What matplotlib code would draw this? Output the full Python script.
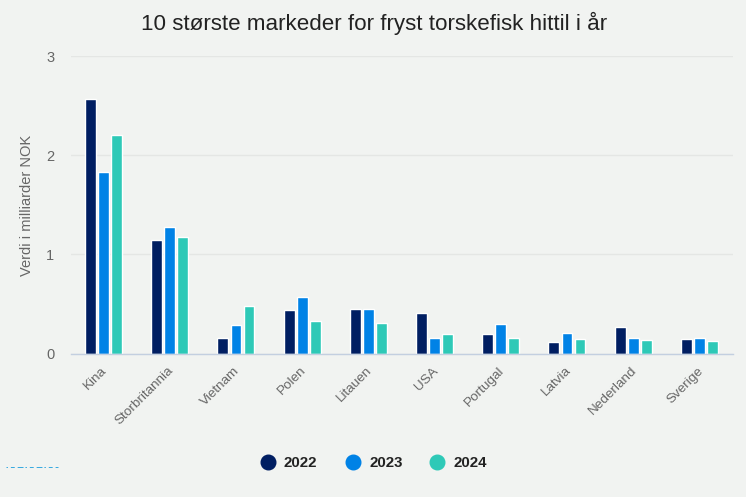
import matplotlib
matplotlib.use("Agg")
import matplotlib.pyplot as plt
import matplotlib.transforms as mtrans
import numpy as np
from matplotlib.lines import Line2D

plt.rcParams['font.family'] = ['Liberation Sans', 'DejaVu Sans']

categories = ["Kina", "Storbritannia", "Vietnam", "Polen", "Litauen", "USA",
              "Portugal", "Latvia", "Nederland", "Sverige"]
v2022 = [2.57, 1.14, 0.16, 0.44, 0.45, 0.41, 0.20, 0.12, 0.27, 0.15]
v2023 = [1.83, 1.28, 0.29, 0.57, 0.45, 0.16, 0.30, 0.21, 0.16, 0.16]
v2024 = [2.20, 1.17, 0.48, 0.33, 0.31, 0.20, 0.16, 0.15, 0.14, 0.13]
series = [("2022", v2022, "#001E62"), ("2023", v2023, "#0082E6"), ("2024", v2024, "#2EC9B7")]
yticks = [0, 1, 2, 3]
W, H = 746, 497
BG = "#F1F3F1"

fig = plt.figure(figsize=(W/100, H/100), dpi=100, facecolor=BG)
ax = fig.add_axes([71/W, 1-353.5/H, (733-71)/W, (353.5-56)/H], facecolor=BG)
x = np.arange(len(categories))
for i, (name, vals, col) in enumerate(series):
    ax.bar(x + (i-1)*0.197 - 0.008, vals, width=0.165, color=col, edgecolor="white", linewidth=1.0, zorder=3)
ax.set_xlim(-0.5, 9.5)
ax.set_ylim(0, 3)
ax.set_yticks(yticks)
ax.set_yticklabels([str(t) for t in yticks], fontsize=10.5, color="#666666")
ax.set_xticks(x)
ax.set_xticklabels(categories, rotation=45, ha="right", rotation_mode="anchor",
                   fontsize=9.7, color="#666666")
ax.tick_params(axis="both", length=0)
ax.tick_params(axis="x", pad=8)
ax.tick_params(axis="y", pad=12)
shift = mtrans.ScaledTranslation(-3/100, 0, fig.dpi_scale_trans)
for lab in ax.get_xticklabels():
    lab.set_transform(lab.get_transform() + shift)
ax.grid(axis="y", color="#E4E6E4", linewidth=1, zorder=0)
ax.set_axisbelow(True)
for s in ["top", "right", "left"]:
    ax.spines[s].set_visible(False)
ax.spines["bottom"].set_color("#C3CFE0")
ax.spines["bottom"].set_linewidth(1)
ax.spines["bottom"].set_zorder(4)

fig.text(374/W, 1-23/H, "10 største markeder for fryst torskefisk hittil i år",
         ha="center", va="center", fontsize=16.15, color="#222222")
fig.text(27/W, 1-205/H, "Verdi i milliarder NOK", rotation=90, ha="center", va="center",
         fontsize=10.5, color="#666666")

for (name, _, col), mx, tx in zip(series, [268, 353, 437], [284, 369, 454]):
    fig.add_artist(Line2D([mx/W], [1-462/H], marker="o", markersize=10.5, color=col,
                          linestyle="none", transform=fig.transFigure))
    fig.text(tx/W, 1-463/H, name, ha="left", va="center", fontsize=10.8,
             fontweight="bold", color="#222222")

fig.add_artist(Line2D([6/W, 58/W], [1-466.7/H]*2, color="#35A8E0", linewidth=0.7,
                      linestyle=(0, (1.5, 3, 4, 3, 6, 2)), transform=fig.transFigure))

fig.savefig("out.png", dpi=100, facecolor=BG)
